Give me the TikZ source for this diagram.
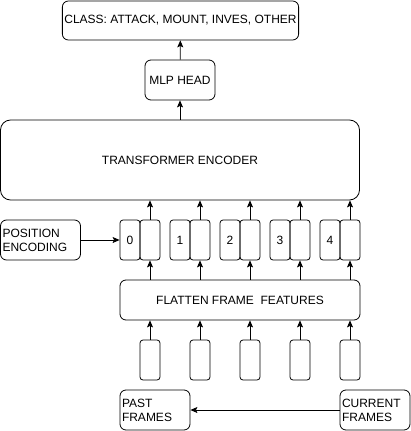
\documentclass[tikz,border=0pt]{standalone}
\usepackage{fontspec}
\setmainfont{Liberation Sans}
\usetikzlibrary{arrows.meta}

\begin{document}
\begin{tikzpicture}[x=1pt, y=-1pt,
    box/.style={draw, rounded corners=6pt, inner sep=2pt, line width=0.8pt,
      font=\fontsize{12}{14}\selectfont},
    tok/.style={box, rounded corners=3pt, minimum width=20pt, minimum height=40pt, inner sep=0pt},
    arr/.style={-{Stealth[length=7pt, width=6pt, inset=1.5pt]}, line width=0.8pt}]
  \useasboundingbox (0,0) rectangle (411,431);

  % Head: class output, MLP head, encoder
  \node[box, minimum width=235pt, minimum height=39pt] (cls) at (180.5,20.5) {CLASS: ATTACK, MOUNT, INVES, OTHER};
  \node[box, minimum width=70pt, minimum height=40pt] (mlp) at (180,80) {MLP HEAD};
  \node[box, rounded corners=10pt, minimum width=359pt, minimum height=80pt] (enc) at (180,160) {TRANSFORMER ENCODER};
  \draw[arr] (mlp) -- (cls);
  \draw[arr] (enc) -- (mlp);

  % Tokens with position index
  \node[box, text width=76pt, align=left, minimum height=40pt] (pos) at (40.5,240) {POSITION\\ENCODING};
  \foreach \i in {0,...,4} {
    \node[tok] (p\i) at (130+\i*50,240) {\i};
    \node[tok] (t\i) at (150+\i*50,240) {};
    \draw[arr] (t\i) -- (t\i |- enc.south);
  }
  \draw[arr] (pos) -- (p0);

  % Flatten layer and frames
  \node[box, minimum width=240pt, minimum height=40pt] (flat) at (240,300) {FLATTEN FRAME\ \ FEATURES};
  \foreach \i in {0,...,4} {
    \node[tok] (f\i) at (150+\i*50,360) {};
    \draw[arr] (f\i) -- (f\i |- flat.south);
    \draw[arr] (t\i |- flat.north) -- (t\i);
  }

  % Past and current frames
  \node[box, text width=66pt, align=left, minimum height=40pt] (past) at (155,410) {PAST\\FRAMES};
  \node[box, text width=66pt, align=left, minimum height=40pt] (cur) at (375,410) {CURRENT\\FRAMES};
  \draw[arr] (cur) -- (past);
\end{tikzpicture}
\end{document}
